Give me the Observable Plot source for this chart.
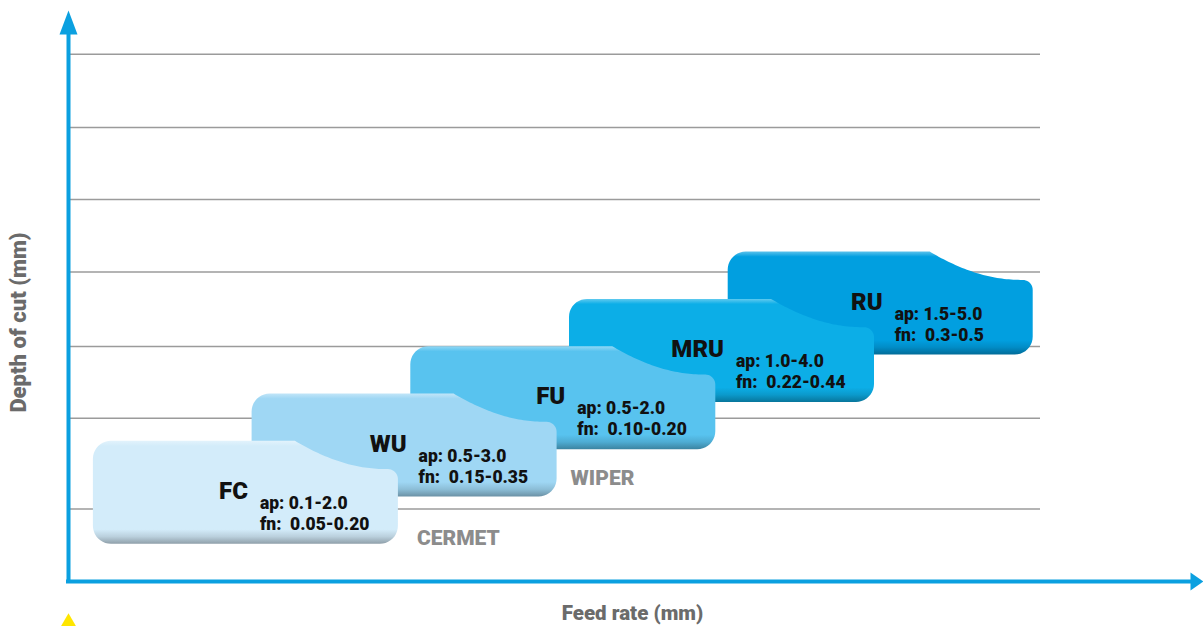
<!DOCTYPE html>
<html>
<head>
<meta charset="utf-8">
<script src="https://cdn.jsdelivr.net/npm/d3@7"></script>
<script src="https://cdn.jsdelivr.net/npm/@observablehq/plot@0.6"></script>
<style>
  html, body { margin: 0; padding: 0; background: #fff; }
  #chart svg { display: block; }
</style>
</head>
<body>
<div id="chart"></div>
<script>
// ---------- data ----------
const grades = ["FC", "WU", "FU", "MRU", "RU"];
const apRanges = ["0.1-2.0", "0.5-3.0", "0.5-2.0", "1.0-4.0", "1.5-5.0"];
const fnRanges = ["0.05-0.20", "0.15-0.35", "0.10-0.20", "0.22-0.44", "0.3-0.5"];
const familyLabels = ["CERMET", "WIPER"];
const gridLevels = [1.0, 2.25, 3.24, 4.27, 5.27, 6.26, 7.27];
const xTitle = "Feed rate (mm)";
const yTitle = "Depth of cut (mm)";

// ---------- styling / layout ----------
const palette = ["#d3ecfa", "#9fd7f4", "#58c3ef", "#0caee7", "#019fe0"];
const axisBlue = "#0ba0e0";
const W = 1203, H = 626, mL = 68, mT = 10, mB = 45, mR = 0;
const xMax = 11.35, yMax = 7.875;
const pxX = (W - mL - mR) / xMax, pxY = (H - mT - mB) / yMax;

// schematic staircase: each grade sits one step up/right of the previous
const stepX = 1.587, stepY = 0.6524, originX = 0.244, originY = 0.52;
const boxW = 3.05, boxH = 1.42, notchW = 1.03, notchD = 0.39;
const rX = 18 / pxX, rY = 18 / pxY, rtX = 10 / pxX, rtY = 10 / pxY;

const boxes = grades.map((g, i) => {
  const x1 = originX + i * stepX, y1 = originY + i * stepY;
  return {grade: g, ap: apRanges[i], fn: fnRanges[i], i, x1, y1, x2: x1 + boxW, y2: y1 + boxH, color: palette[i]};
});

function arc(cx, cy, a0, a1, rx, ry, n = 10) {
  const pts = [];
  for (let k = 0; k <= n; k++) {
    const a = (a0 + (a1 - a0) * k / n) * Math.PI / 180;
    pts.push({x: cx + rx * Math.cos(a), y: cy + ry * Math.sin(a)});
  }
  return pts;
}
function shape(b) {
  const yt = b.y2 - notchD, xn = b.x2 - notchW;
  let pts = [];
  pts = pts.concat(arc(b.x1 + rX, b.y1 + rY, 180, 270, rX, rY));
  pts = pts.concat(arc(b.x2 - rX, b.y1 + rY, 270, 360, rX, rY));
  pts = pts.concat(arc(b.x2 - rtX, yt - rtY, 0, 90, rtX, rtY));
  const xs = b.x2 - rtX, n = 40;
  for (let k = 1; k <= n; k++) {
    const u = 1 - k / n; // u=0 at notch start, u=1 at lower end
    const f = 0.85 * (1 - Math.pow(1 - u, 2.3)) + 0.15 * (1 - Math.cos(Math.PI * u)) / 2;
    pts.push({x: xn + (xs - xn) * u, y: b.y2 - notchD * f});
  }
  pts = pts.concat(arc(b.x1 + rX, b.y2 - rY, 90, 180, rX, rY));
  return pts;
}

const marks = [];
marks.push(Plot.ruleY(gridLevels, {x1: 0, x2: 9.72, stroke: "#9b9b9b", strokeWidth: 1.5}));

const font = "Roboto, 'Liberation Sans', sans-serif";
boxes.slice().reverse().forEach(b => {
  marks.push(Plot.line(shape(b), {x: "x", y: "y", fill: `url(#grad-${b.grade})`, stroke: "none", curve: "linear"}));
  marks.push(Plot.text([b], {x: "x1", y: "y2", text: "grade", dx: 155, dy: 58, textAnchor: "end", lineAnchor: "bottom",
    fontSize: 24, fontWeight: 900, fill: "#111", fontFamily: font}));
  marks.push(Plot.text([b], {x: "x1", y: "y2", text: d => "ap: " + d.ap + "\nfn:\u00a0 " + d.fn, dx: 167, dy: 89,
    textAnchor: "start", lineAnchor: "bottom", lineHeight: 1.2,
    fontSize: 17.5, fontWeight: 900, fill: "#111", fontFamily: font}));
});

// family labels next to the first two grades
marks.push(Plot.text([boxes[0]], {x: "x2", y: "y1", text: () => familyLabels[0], dx: 19, dy: 1, textAnchor: "start", lineAnchor: "bottom",
  fontSize: 21, fontWeight: 900, fill: "#8c8c8c", fontFamily: font}));
marks.push(Plot.text([boxes[1]], {x: "x2", y: "y1", text: () => familyLabels[1], dx: 14, dy: -11, textAnchor: "start", lineAnchor: "bottom",
  fontSize: 21, fontWeight: 900, fill: "#8c8c8c", fontFamily: font}));

// axes with arrowheads
marks.push(Plot.ruleX([0], {y1: -2 / pxY, y2: yMax - 22 / pxY, stroke: axisBlue, strokeWidth: 4}));
marks.push(Plot.ruleY([0], {x1: -2 / pxX, x2: xMax - 12 / pxX, stroke: axisBlue, strokeWidth: 4}));
const yHead = [{x: 0, y: yMax}, {x: 9 / pxX, y: yMax - 24 / pxY}, {x: -9 / pxX, y: yMax - 24 / pxY}];
const xHead = [{x: xMax, y: 0}, {x: xMax - 13 / pxX, y: 9 / pxY}, {x: xMax - 13 / pxX, y: -9 / pxY}];
marks.push(Plot.line(yHead, {x: "x", y: "y", fill: axisBlue, stroke: "none"}));
marks.push(Plot.line(xHead, {x: "x", y: "y", fill: axisBlue, stroke: "none"}));

// small yellow marker below the origin
marks.push(Plot.dot([0], {x: 0, y: -41 / pxY, symbol: "triangle", r: 6, fill: "#ffe600", stroke: "none"}));

// axis titles
marks.push(Plot.text([yTitle], {x: -50 / pxX, y: (581 - 322) / pxY, text: d => d, rotate: -90, fontSize: 22, fontWeight: 900, fill: "#6b6b6b", fontFamily: font}));
marks.push(Plot.text([xTitle], {x: (632 - mL) / pxX, y: -38 / pxY, text: d => d, lineAnchor: "bottom", fontSize: 20.5, fontWeight: 900, fill: "#6b6b6b", fontFamily: font}));

const svg = Plot.plot({
  width: W, height: H,
  marginLeft: mL, marginTop: mT, marginBottom: mB, marginRight: mR,
  x: {domain: [0, xMax], axis: null},
  y: {domain: [0, yMax], axis: null},
  style: {fontFamily: font, background: "#fff", overflow: "visible"},
  marks
});

// vertical gradients giving each tile its light top edge and shaded bottom edge
const defs = d3.select(svg).insert("defs", ":first-child");
boxes.forEach(b => {
  const base = d3.color(b.color);
  const light = d3.interpolateRgb(b.color, "#ffffff")(0.35);
  const g = defs.append("linearGradient").attr("id", `grad-${b.grade}`).attr("x1", 0).attr("y1", 0).attr("x2", 0).attr("y2", 1);
  [[0, light], [0.05, b.color], [0.86, b.color], [0.93, base.darker(0.35).formatHex()], [1, base.darker(1.1).formatHex()]]
    .forEach(([o, c]) => g.append("stop").attr("offset", o).attr("stop-color", c));
});

document.getElementById("chart").appendChild(svg);
</script>
</body>
</html>
